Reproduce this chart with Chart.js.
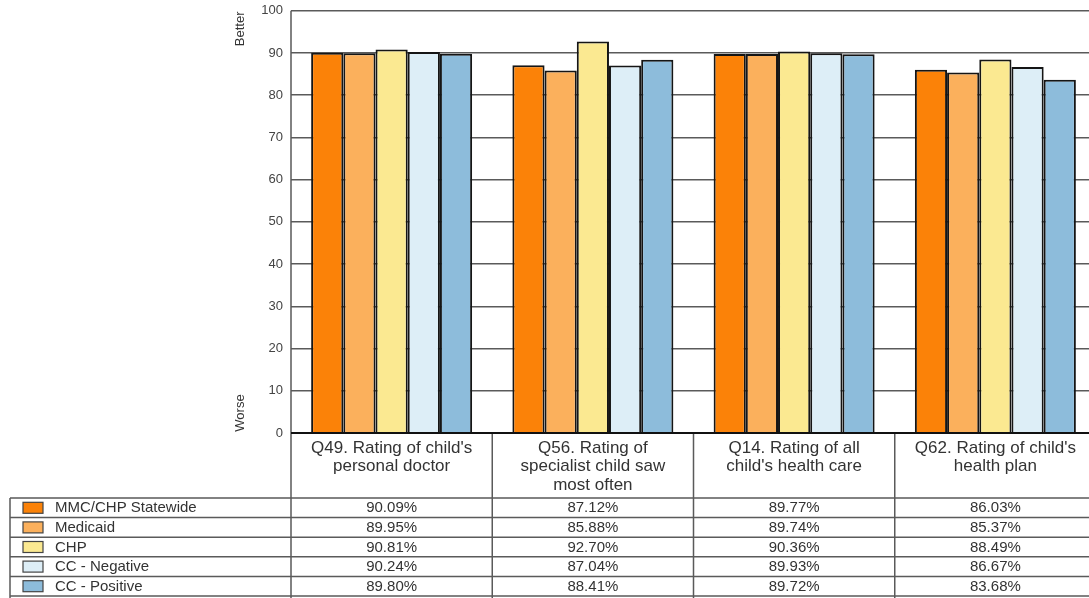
<!DOCTYPE html>
<html>
<head>
<meta charset="utf-8">
<script src="https://cdn.jsdelivr.net/npm/chart.js"></script>
<style>
  html, body { margin: 0; padding: 0; background: #fff; overflow: hidden; }
  #wrap { width: 1100px; height: 598px; overflow: hidden; }
  #chart { display: block; margin-top: -5px; }
</style>
</head>
<body>
<div id="wrap"><canvas id="chart" width="1100" height="603"></canvas></div>
<script>
// Données
const categories = [
    ["Q49. Rating of child's", "personal doctor"],
    ["Q56. Rating of", "specialist child saw", "most often"],
    ["Q14. Rating of all", "child's health care"],
    ["Q62. Rating of child's", "health plan"]
];
const seriesNames = ['MMC/CHP Statewide', 'Medicaid', 'CHP', 'CC - Negative', 'CC - Positive'];
const statewide = [90.09, 87.12, 89.77, 86.03];
const medicaid = [89.95, 85.88, 89.74, 85.37];
const chp = [90.81, 92.70, 90.36, 88.49];
const ccNegative = [90.24, 87.04, 89.93, 86.67];
const ccPositive = [89.80, 88.41, 89.72, 83.68];
const yTicks = [0, 10, 20, 30, 40, 50, 60, 70, 80, 90, 100];

const seriesValues = [statewide, medicaid, chp, ccNegative, ccPositive];
const seriesColors = ['#fb8208', '#fbb05c', '#fbe991', '#ddeef7', '#8dbcdb'];

const LINE = '#5a5a5a';
const TEXT = '#333';
const FONT = '"Liberation Sans", Arial, sans-serif';

// Tableau de données + libellés sous l'axe
const tablePlugin = {
    id: 'tablePlugin',
    afterDraw(chart) {
        const ctx = chart.ctx;
        const x = chart.scales.x;
        const area = chart.chartArea;
        const n = categories.length;
        const cw = (area.right - area.left) / n;
        const labelBottom = area.bottom + 65;
        const rowH = 19.6;
        const tableBottom = labelBottom + rowH * seriesNames.length;
        const legendLeft = 10;

        ctx.save();

        // Better / Worse
        ctx.fillStyle = TEXT;
        ctx.font = '13px ' + FONT;
        ctx.textBaseline = 'middle';
        ctx.textAlign = 'center';
        ctx.save();
        ctx.translate(240, area.top + 18);
        ctx.rotate(-Math.PI / 2);
        ctx.fillText('Better', 0, 0);
        ctx.restore();
        ctx.save();
        ctx.translate(240, area.bottom - 20);
        ctx.rotate(-Math.PI / 2);
        ctx.fillText('Worse', 0, 0);
        ctx.restore();

        // lignes du tableau
        ctx.strokeStyle = LINE;
        ctx.lineWidth = 1.5;
        ctx.beginPath();
        ctx.moveTo(area.left, area.top);
        ctx.lineTo(area.left, tableBottom + 5);
        for (let i = 1; i <= n; i++) {
            const bx = area.left + cw * i;
            ctx.moveTo(bx, area.bottom);
            ctx.lineTo(bx, tableBottom + 5);
        }
        for (let r = 0; r <= seriesNames.length; r++) {
            const y = labelBottom + rowH * r;
            ctx.moveTo(legendLeft, y);
            ctx.lineTo(area.right, y);
        }
        ctx.moveTo(legendLeft, labelBottom);
        ctx.lineTo(legendLeft, tableBottom + 5);
        ctx.stroke();

        // ligne zéro
        ctx.strokeStyle = '#111';
        ctx.lineWidth = 2;
        ctx.beginPath();
        ctx.moveTo(area.left, area.bottom);
        ctx.lineTo(area.right, area.bottom);
        ctx.stroke();

        // libellés des catégories
        ctx.fillStyle = TEXT;
        ctx.font = '17px ' + FONT;
        ctx.textAlign = 'center';
        ctx.textBaseline = 'middle';
        categories.forEach((lines, i) => {
            const cx = x.getPixelForValue(i);
            lines.forEach((t, j) => {
                ctx.fillText(t, cx, area.bottom + 15 + j * 18.5);
            });
        });

        // légende + valeurs
        ctx.font = '15px ' + FONT;
        seriesNames.forEach((name, r) => {
            const cy = labelBottom + rowH * r + rowH / 2;
            ctx.fillStyle = seriesColors[r];
            ctx.fillRect(23, cy - 5.5, 20, 11);
            ctx.strokeStyle = '#444';
            ctx.lineWidth = 1.2;
            ctx.strokeRect(23, cy - 5.5, 20, 11);
            ctx.fillStyle = TEXT;
            ctx.textAlign = 'left';
            ctx.fillText(name, 55, cy + 0.5);
            ctx.textAlign = 'center';
            seriesValues[r].forEach((v, i) => {
                ctx.fillText(v.toFixed(2) + '%', x.getPixelForValue(i), cy + 0.5);
            });
        });

        ctx.restore();
    }
};

const datasets = seriesNames.map((name, k) => ({
    label: name,
    data: seriesValues[k],
    backgroundColor: seriesColors[k],
    borderColor: '#151515',
    borderWidth: 2,
    categoryPercentage: 0.8,
    barPercentage: 1.0
}));

new Chart(document.getElementById('chart').getContext('2d'), {
    type: 'bar',
    data: {
        labels: categories.map(c => c.join(' ')),
        datasets: datasets
    },
    options: {
        responsive: false,
        animation: false,
        layout: {
            padding: { left: 0, right: 4, top: 5, bottom: 165 }
        },
        plugins: {
            legend: { display: false },
            tooltip: { enabled: false }
        },
        scales: {
            x: {
                display: false
            },
            y: {
                min: 0,
                max: 100,
                afterBuildTicks: scale => {
                    scale.ticks = yTicks.map(v => ({ value: v }));
                },
                afterFit: scale => {
                    scale.width = 291;
                },
                grid: {
                    color: LINE,
                    lineWidth: 1.5,
                    drawTicks: false
                },
                border: { display: false },
                ticks: {
                    color: '#444',
                    padding: 8,
                    font: { size: 13, family: FONT }
                }
            }
        }
    },
    plugins: [tablePlugin]
});
</script>
</body>
</html>
